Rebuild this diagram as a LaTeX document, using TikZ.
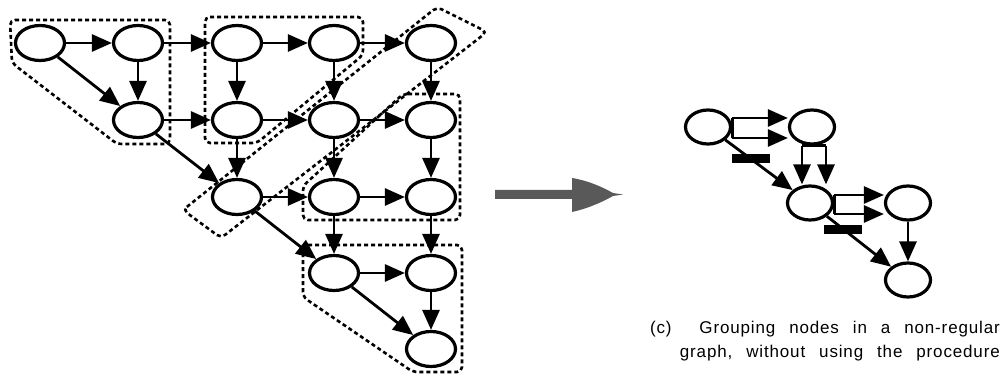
\documentclass[tikz,border=0pt]{standalone}
\usepackage{fontspec}
\newfontfamily\capfont[LetterSpace=5,WordSpace=2.5]{Liberation Sans}
\usetikzlibrary{shapes.geometric,arrows.meta,calc}
\tikzset{
  vtx/.style={ellipse, draw, line width=3.2pt, minimum width=49pt, minimum height=35pt, inner sep=0pt},
  rvtx/.style={vtx, minimum width=45pt, minimum height=34pt},
  edge/.style={line width=2.8pt, -{Triangle[length=20pt,width=17pt]}},
  plain/.style={line width=2.8pt},
  grp/.style={line width=2.6pt, dash pattern=on 4pt off 3pt, rounded corners=5pt},
  bar/.style={fill=black, inner sep=0pt, minimum width=38pt, minimum height=9pt},
  captext/.style={inner sep=0pt, font=\capfont\fontsize{17}{17}\selectfont}
}
\begin{document}
\begin{tikzpicture}[x=1pt,y=-1pt]
\useasboundingbox (0,0) rectangle (1006,387);
% left graph nodes
\node[vtx] (A) at (40,43) {};
\node[vtx] (B) at (138,43) {};
\node[vtx] (C) at (237,43) {};
\node[vtx] (D) at (334,43) {};
\node[vtx] (E) at (431,43) {};
\node[vtx] (F) at (138,120) {};
\node[vtx] (G) at (237,120) {};
\node[vtx] (H) at (334,120) {};
\node[vtx] (I) at (431,120) {};
\node[vtx] (J) at (237,197) {};
\node[vtx] (K) at (334,197) {};
\node[vtx] (L) at (431,197) {};
\node[vtx] (M) at (334,273) {};
\node[vtx] (N) at (431,273) {};
\node[vtx] (O) at (431,349) {};
% left graph edges
\foreach \s/\t in {A/B,A/F,B/F,B/C,F/G,C/D,C/G,D/E,D/H,G/H,H/I,E/I,G/J,H/K,I/L,F/J,J/K,K/L,K/M,L/N,J/M,M/N,M/O,N/O}
  \draw[edge] (\s) -- (\t);
% groups
\draw[grp] (10,20) -- (170,20) -- (170,144) -- (117,144) -- (12,63) -- cycle;
\draw[grp] (205,17) -- (363,17) -- (363,55) -- (257,143) -- (205,143) -- cycle;
\draw[grp] (183,210) -- (437,7) -- (487,32) -- (221,238) -- cycle;
\draw[grp] (403,94) -- (460,94) -- (460,220) -- (303,220) -- (303,186) -- cycle;
\draw[grp] (303,245) -- (462,245) -- (462,372) -- (413,372) -- (303,297) -- cycle;
% middle arrow
\fill[black!65] (495,190) -- (572,190) -- (572,178)
  .. controls (590,181) and (604,188) .. (613,193) -- (623,194.5) -- (613,196)
  .. controls (604,201) and (590,208) .. (572,212) -- (572,199) -- (495,199) -- cycle;
% right graph
\node[rvtx] (P) at (708,127) {};
\node[rvtx] (Q) at (812,127) {};
\node[rvtx] (R) at (810,203) {};
\node[rvtx] (S) at (908,203) {};
\node[rvtx] (T) at (908,280) {};
\draw[plain] ([yshift=9pt]P.east) -- ([yshift=-11pt]P.east);
\draw[edge] ([yshift=9pt]P.east) -- ([yshift=9pt]Q.west);
\draw[edge] ([yshift=-11pt]P.east) -- ([yshift=-11pt]Q.west);
\draw[plain] ([xshift=-10pt]Q.south) -- ([xshift=14pt]Q.south);
\draw[edge] ([xshift=-10pt]Q.south) -- ([xshift=-8pt]R.north);
\draw[edge] ([xshift=14pt]Q.south) -- ([xshift=16pt]R.north);
\draw[plain] ([yshift=8pt]R.east) -- ([yshift=-11pt]R.east);
\draw[edge] ([yshift=8pt]R.east) -- ([yshift=8pt]S.west);
\draw[edge] ([yshift=-11pt]R.east) -- ([yshift=-11pt]S.west);
\draw[edge] (P) -- (R);
\draw[edge] (R) -- (T);
\draw[edge] (S) -- (T);
\node[bar] (bar1) at ($(P)!0.42!(R)$) {};
\node[bar] (bar2) at ($(R)!0.34!(T)$) {};
% caption
\node[captext, anchor=base east] (cap1) at (1000,333) {(c)\ \ Grouping nodes in a non-regular};
\node[captext, anchor=base east] (cap2) at (1000,357) {graph, without using the procedure};
\end{tikzpicture}
\end{document}
